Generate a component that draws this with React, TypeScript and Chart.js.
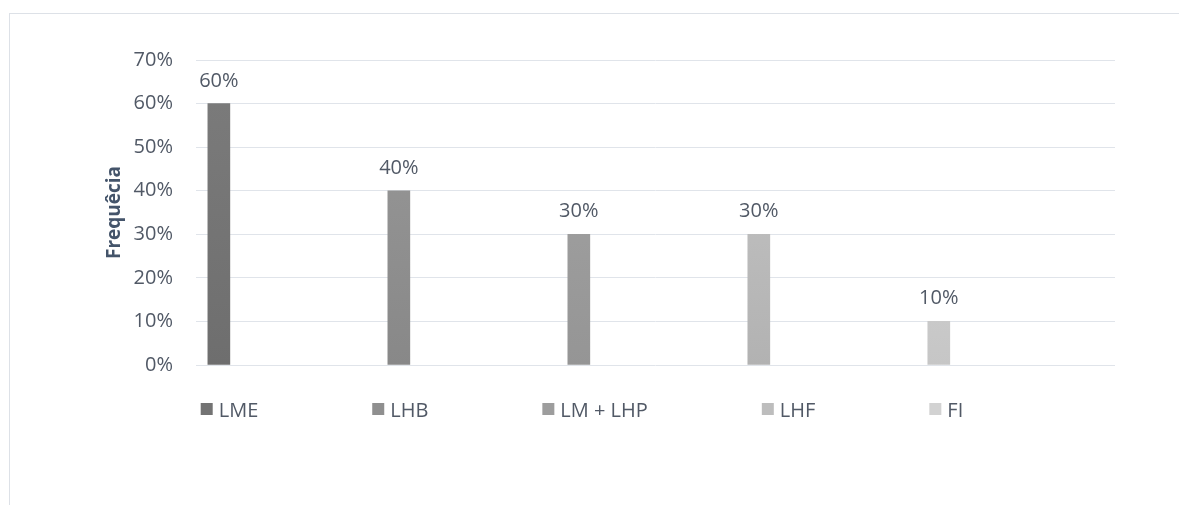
import React, { useEffect, useRef } from "react";
import { Chart, registerables } from "chart.js";

Chart.register(...registerables);

const seriesNames = ["LME", "LHB", "LM + LHP", "LHF", "FI"];
const seriesValues = [0.6, 0.4, 0.3, 0.3, 0.1];
const seriesPositions = [0, 1, 2, 3, 4];
const gradientTop = ["#7c7c7c", "#9a9a9a", "#a6a6a6", "#c8c8c8", "#dadada"];
const gradientBottom = ["#6e6e6e", "#888888", "#959595", "#b2b2b2", "#c6c6c6"];
const legendColors = ["#737373", "#8f8f8f", "#9d9d9d", "#bdbdbd", "#d2d2d2"];
const yMax = 0.7;
const yStep = 0.1;
const axisTitle = "Frequêcia";

const TEXT = "#515966";
const FONT = '"Open Sans", sans-serif';

const dataLabelPlugin = {
  id: "dataLabels",
  afterDatasetsDraw(chart: any) {
    const { ctx } = chart;
    ctx.save();
    ctx.font = `20px ${FONT}`;
    ctx.fillStyle = TEXT;
    ctx.textAlign = "center";
    ctx.textBaseline = "alphabetic";
    chart.data.datasets.forEach((ds: any, i: number) => {
      const meta = chart.getDatasetMeta(i);
      meta.data.forEach((el: any, j: number) => {
        const v = ds.data[j].y;
        ctx.fillText(Math.round(v * 100) + "%", el.x, el.y - 17);
      });
    });
    ctx.restore();
  },
};

const legendPlugin = {
  id: "spreadLegend",
  afterDraw(chart: any) {
    const { ctx, chartArea } = chart;
    ctx.save();
    ctx.font = `20px ${FONT}`;
    ctx.textBaseline = "alphabetic";
    ctx.textAlign = "left";
    const box = 12;
    const gap = 6;
    const spacing = 114;
    let x = chartArea.left + 4.7;
    const boxTop = chartArea.bottom + 38;
    const baseline = chartArea.bottom + 52;
    chart.data.datasets.forEach((ds: any, i: number) => {
      ctx.fillStyle = legendColors[i];
      ctx.fillRect(x, boxTop, box, box);
      ctx.fillStyle = TEXT;
      ctx.fillText(ds.label, x + box + gap, baseline);
      const w = ctx.measureText(ds.label).width;
      x += box + gap + w + spacing;
    });
    ctx.restore();
  },
};

export default function App() {
  const ref = useRef<HTMLCanvasElement>(null);

  useEffect(() => {
    if (!ref.current) return;
    Chart.defaults.font.family = FONT;
    const datasets = seriesNames.map((name, i) => ({
      label: name,
      data: [{ x: seriesPositions[i], y: seriesValues[i] }],
      barThickness: 22,
      backgroundColor: (c: any) => {
        const area = c.chart.chartArea;
        if (!area) return legendColors[i];
        const g = c.chart.ctx.createLinearGradient(0, area.top, 0, area.bottom);
        g.addColorStop(0, gradientTop[i]);
        g.addColorStop(1, gradientBottom[i]);
        return g;
      },
      borderWidth: 0,
    }));
    const chart = new Chart(ref.current, {
      type: "bar",
      data: { datasets },
      plugins: [dataLabelPlugin, legendPlugin],
      options: {
        animation: false,
        responsive: true,
        maintainAspectRatio: false,
        layout: { padding: { top: 46, right: 64, bottom: 140, left: 0 } },
        plugins: {
          legend: { display: false },
          tooltip: { enabled: false },
        },
        scales: {
          x: {
            type: "linear",
            min: -0.127,
            max: 4.979,
            offset: false,
            grid: { offset: false },
            stacked: true,
            display: false,
          },
          y: {
            min: 0,
            max: yMax,
            afterFit: (s: any) => {
              s.width = 186;
            },
            ticks: {
              stepSize: yStep,
              padding: 23,
              color: TEXT,
              font: { size: 20, family: FONT },
              callback: (v: any) => Math.round(Number(v) * 100) + "%",
            },
            grid: { color: "#e0e4ea", lineWidth: 1, drawTicks: false },
            border: { display: false },
            title: {
              display: true,
              text: axisTitle,
              color: "#44546a",
              font: { size: 19, weight: "bold", family: FONT },
              padding: { top: 93.6, bottom: 0 },
            },
          },
        },
      },
    });
    return () => chart.destroy();
  }, []);

  return (
    <div
      style={{
        position: "fixed",
        left: 9,
        top: 13,
        width: 1170,
        height: 492,
        borderTop: "1px solid #dde1e7",
        borderLeft: "1px solid #dde1e7",
        background: "#fff",
      }}
    >
      <div style={{ position: "relative", width: 1169, height: 491 }}>
        <canvas ref={ref} />
      </div>
    </div>
  );
}
